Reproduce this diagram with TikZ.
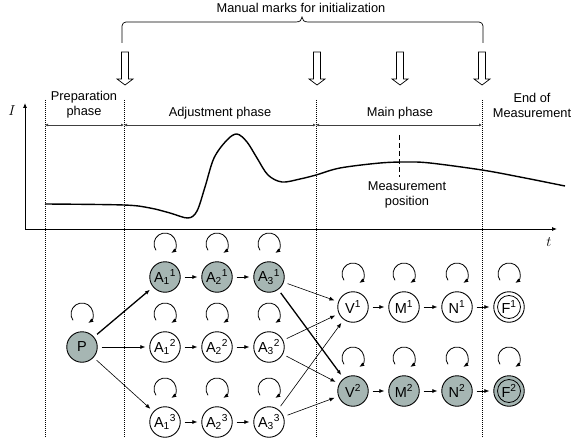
\documentclass[tikz,border=0pt]{standalone}
\usepackage{fontspec}
\setmainfont{Liberation Sans}
\usetikzlibrary{arrows.meta}
\definecolor{nodegray}{RGB}{166,182,179}
\begin{document}
\begin{tikzpicture}[x=1pt,y=1pt,
  st/.style={circle,draw,line width=0.9pt,minimum size=30.5pt,inner sep=0pt,font=\fontsize{14.5}{14.5}\selectfont},
  gst/.style={st,fill=nodegray},
  tip/.style={-{Latex[length=5pt,width=4pt]}},
  edge/.style={tip,line width=0.6pt,shorten <=4pt,shorten >=4pt},
  bedge/.style={edge,line width=1.3pt},
  vdot/.style={line width=0.7pt,dash pattern=on 1pt off 1pt},
  lbl/.style={font=\fontsize{12.8}{15}\selectfont,align=center,inner sep=0pt},
  axlbl/.style={font=\fontsize{15}{15}\selectfont,inner sep=0pt},
  phase/.style={line width=0.8pt,black!75,{Latex[length=3pt,width=3pt]}-{Latex[length=3pt,width=3pt]}},
  hollowarrow/.style={line width=0.7pt,fill=white},
  loopline/.style={tip,line width=0.8pt}
]
\useasboundingbox (0,0) rectangle (572,445);

% title and brace
\node[lbl] (title) at (301,437) {Manual marks for initialization};
\draw[line width=0.7pt] (122,402) -- (122,419) arc[start angle=180,end angle=90,radius=4pt]
  -- (296,423) .. controls (300,423) and (302,425) .. (302,428)
  .. controls (302,425) and (304,423) .. (308,423)
  -- (479,423) arc[start angle=90,end angle=0,radius=4pt] -- (483,402);

% hollow arrows
\foreach \x in {125,317,400,482}
  \draw[hollowarrow] (\x-3.5,393) -- (\x+3.5,393) -- (\x+3.5,366) -- (\x+8,366)
     -- (\x,360) -- (\x-8,366) -- (\x-3.5,366) -- cycle;

% dotted separators
\foreach \x in {45,124,316,482}
  \draw[vdot] (\x,345) -- (\x,8);

% phase labels and arrows
\node[lbl] (prep) at (84,340) {Preparation\\phase};
\node[lbl] (adj) at (220,332) {Adjustment phase};
\node[lbl] (main) at (400,332) {Main phase};
\node[lbl] (endm) at (532,340) {End of\\Measurement};
\coordinate (p0) at (45,320);
\coordinate (p1) at (124,320);
\coordinate (p2) at (316,320);
\coordinate (p3) at (482,320);
\draw[phase] (p0) -- (p1);
\draw[phase] (p1) -- (p2);
\draw[phase] (p2) -- (p3);

% axes
\coordinate (origin) at (25,216);
\coordinate (ytop) at (25,342);
\coordinate (xend) at (557,216);
\draw[tip,line width=0.8pt] (origin) -- (ytop);
\draw[tip,line width=0.8pt] (origin) -- (xend);
\node[axlbl] (Ilab) at (12,334) {$I$};
\node[axlbl] (tlab) at (549,203) {$t$};

% curve
\draw[line width=1.4pt] plot[smooth,tension=0.55] coordinates {
 (45,241) (124,240) (150,237) (170,232) (188,227) (197,234) (205,258) (214,287)
 (227,305) (237,311) (247,303) (257,287) (268,270) (282,263) (300,266) (316,270)
 (340,277) (380,282) (407,283) (430,282) (482,275) (520,268) (565,259)};

% measurement position
\coordinate (mtop) at (399,310);
\coordinate (mbot) at (399,268);
\draw[line width=0.8pt,dash pattern=on 5pt off 3pt] (mtop) -- (mbot);
\node[lbl] (mpos) at (407,250) {Measurement\\position};

% nodes
\node[gst] (P) at (82,98) {P};
\node[gst] (A11) at (165,168) {A\textsubscript{1}\textsuperscript{1}};
\node[gst] (A21) at (217,168) {A\textsubscript{2}\textsuperscript{1}};
\node[gst] (A31) at (269,168) {A\textsubscript{3}\textsuperscript{1}};
\node[st] (A12) at (165,98) {A\textsubscript{1}\textsuperscript{2}};
\node[st] (A22) at (217,98) {A\textsubscript{2}\textsuperscript{2}};
\node[st] (A32) at (269,98) {A\textsubscript{3}\textsuperscript{2}};
\node[st] (A13) at (165,23) {A\textsubscript{1}\textsuperscript{3}};
\node[st] (A23) at (217,23) {A\textsubscript{2}\textsuperscript{3}};
\node[st] (A33) at (269,23) {A\textsubscript{3}\textsuperscript{3}};
\node[st] (V1) at (353,138) {V\textsuperscript{1}};
\node[st] (M1) at (404,138) {M\textsuperscript{1}};
\node[st] (N1) at (457,138) {N\textsuperscript{1}};
\node[st] (F1) at (509,138) {F\textsuperscript{1}};
\node[gst] (V2) at (353,54) {V\textsuperscript{2}};
\node[gst] (M2) at (404,54) {M\textsuperscript{2}};
\node[gst] (N2) at (457,54) {N\textsuperscript{2}};
\node[gst] (F2) at (509,54) {F\textsuperscript{2}};
\draw[line width=0.8pt] (F1.center) circle[radius=11.5pt];
\draw[line width=0.8pt] (F2.center) circle[radius=11.5pt];

% self loops
\foreach \n in {P,A11,A21,A31,A12,A22,A32,A13,A23,A33,V1,M1,N1,F1,V2,M2,N2,F2}
  \draw[loopline] ([yshift=33pt]\n.center) ++(215:11pt) arc[start angle=215,end angle=-55,radius=11pt];

% edges
\draw[bedge] (P) -- (A11);
\draw[edge] (P) -- (A12);
\draw[edge] (P) -- (A13);
\foreach \r in {1,2,3} {
  \draw[edge] (A1\r) -- (A2\r);
  \draw[edge] (A2\r) -- (A3\r);
}
\draw[edge] (A31) -- (V1);
\draw[bedge] (A31) -- (V2);
\draw[edge] (A32) -- (V1);
\draw[edge] (A32) -- (V2);
\draw[edge] (A33) -- (V1);
\draw[edge] (A33) -- (V2);
\foreach \r in {1,2} {
  \draw[edge] (V\r) -- (M\r);
  \draw[edge] (M\r) -- (N\r);
  \draw[edge] (N\r) -- (F\r);
}
\end{tikzpicture}
\end{document}
